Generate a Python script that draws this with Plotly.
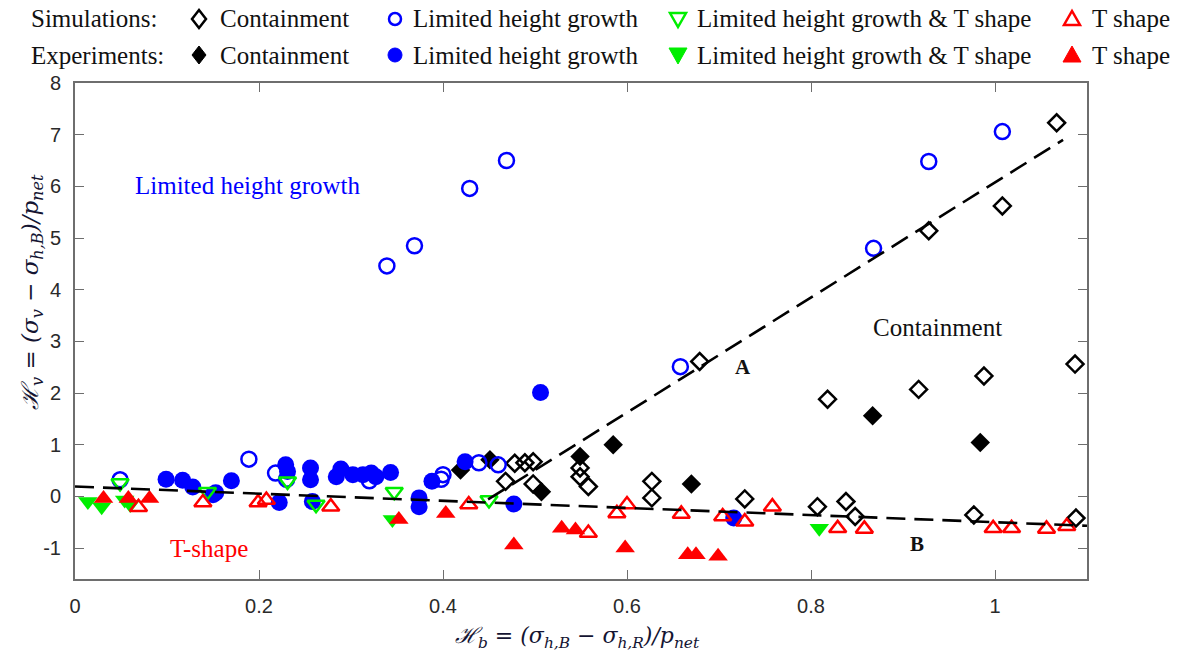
import plotly.graph_objects as go

# ---------------- data ----------------
sim_cont_x = [1.067, 1.008, 0.928, 0.679, 1.087, 0.988, 0.917, 0.818, 0.468, 0.478, 0.489, 0.498,
              0.498, 0.549, 0.549, 0.558, 0.627, 0.627, 0.728, 0.807, 0.838, 0.848, 0.977, 1.088]
sim_cont_y = [7.23, 5.62, 5.14, 2.61, 2.56, 2.33, 2.07, 1.88, 0.29, 0.64, 0.65, 0.67,
              0.24, 0.55, 0.38, 0.19, 0.29, -0.03, -0.05, -0.20, -0.10, -0.39, -0.36, -0.42]

exp_cont_x = [0.419, 0.451, 0.507, 0.549, 0.585, 0.670, 0.867, 0.984]
exp_cont_y = [0.51, 0.71, 0.09, 0.77, 1.00, 0.24, 1.56, 1.04]

sim_lhg_x = [0.049, 0.189, 0.218, 0.230, 0.320, 0.398, 0.400, 0.439, 0.460,
             0.339, 0.369, 0.429, 0.469, 0.658, 0.868, 0.928, 1.008]
sim_lhg_y = [0.32, 0.72, 0.45, 0.33, 0.30, 0.33, 0.42, 0.65, 0.61,
             4.46, 4.85, 5.96, 6.50, 2.51, 4.80, 6.48, 7.06]

exp_lhg_x = [0.099, 0.117, 0.128, 0.150, 0.153, 0.170, 0.222, 0.229, 0.231, 0.256, 0.256, 0.258,
             0.284, 0.289, 0.302, 0.313, 0.322, 0.327, 0.343, 0.374, 0.374, 0.388, 0.424,
             0.477, 0.506, 0.716]
exp_lhg_y = [0.33, 0.31, 0.18, 0.03, 0.07, 0.30, -0.12, 0.61, 0.48, 0.55, 0.32, -0.10,
             0.38, 0.53, 0.42, 0.42, 0.45, 0.38, 0.46, -0.03, -0.20, 0.29, 0.67,
             -0.15, 2.01, -0.42]

sim_lhgT_x = [0.049, 0.144, 0.231, 0.262, 0.347, 0.450]
sim_lhgT_y = [0.26, 0.09, 0.29, -0.16, 0.09, -0.07]

exp_lhgT_x = [0.014, 0.029, 0.054, 0.060, 0.345, 0.809]
exp_lhgT_y = [-0.10, -0.20, -0.07, -0.16, -0.45, -0.62]

sim_T_x = [0.069, 0.139, 0.199, 0.208, 0.278, 0.428, 0.558, 0.589, 0.600, 0.659, 0.704,
           0.728, 0.758, 0.829, 0.858, 0.998, 1.018, 1.056, 1.078]
sim_T_y = [-0.21, -0.12, -0.12, -0.07, -0.20, -0.16, -0.71, -0.33, -0.16, -0.34, -0.39,
           -0.49, -0.20, -0.62, -0.63, -0.62, -0.62, -0.63, -0.58]

exp_T_x = [0.031, 0.058, 0.081, 0.352, 0.403, 0.477, 0.529, 0.544, 0.598, 0.666, 0.675, 0.699]
exp_T_y = [-0.04, -0.04, -0.04, -0.45, -0.33, -0.94, -0.62, -0.65, -1.00, -1.13, -1.13, -1.16]

lineA_x = [0.449, 1.074]
lineA_y = [-0.06, 6.90]
lineB_x = [0.0, 1.1]
lineB_y = [0.19, -0.57]

x_ticks = [0, 0.2, 0.4, 0.6, 0.8, 1.0]
x_tick_labels = ["0", "0.2", "0.4", "0.6", "0.8", "1"]
y_ticks = [-1, 0, 1, 2, 3, 4, 5, 6, 7, 8]
y_tick_labels = ["-1", "0", "1", "2", "3", "4", "5", "6", "7", "8"]

legend_row_titles = ["Simulations:", "Experiments:"]
legend_labels = ["Containment", "Limited height growth", "Limited height growth & T shape", "T shape"]

# ---------------- layout constants ----------------
W, H = 1178, 657
ML, MR, MT, MB = 75, 91, 83, 78
PW, PH = W - ML - MR, H - MT - MB


def pxx(px):
    return (px - ML) / PW


def pxy(py):
    return (H - MB - py) / PH


BLUE, GREEN, RED, BLACK = "#0000ff", "#00ee00", "#ff0000", "#000000"
SERIF = "Liberation Serif, Times New Roman, serif"
MATH = "DejaVu Serif, Liberation Serif, serif"
SANS = "Liberation Sans, Arial, sans-serif"

series = [
    dict(x=sim_cont_x, y=sim_cont_y, sym="diamond-open", c=BLACK, s=13),
    dict(x=exp_cont_x, y=exp_cont_y, sym="diamond", c=BLACK, s=15),
    dict(x=sim_lhg_x, y=sim_lhg_y, sym="circle-open", c=BLUE, s=15),
    dict(x=exp_lhg_x, y=exp_lhg_y, sym="circle", c=BLUE, s=17),
    dict(x=sim_lhgT_x, y=sim_lhgT_y, sym="triangle-down-open", c=GREEN, s=15),
    dict(x=exp_lhgT_x, y=exp_lhgT_y, sym="triangle-down", c=GREEN, s=17),
    dict(x=sim_T_x, y=sim_T_y, sym="triangle-up-open", c=RED, s=15),
    dict(x=exp_T_x, y=exp_T_y, sym="triangle-up", c=RED, s=17),
]

fig = go.Figure()
for s in series:
    opn = s["sym"].endswith("open")
    fig.add_trace(go.Scatter(
        x=s["x"], y=s["y"], mode="markers", showlegend=False, cliponaxis=False,
        marker=dict(symbol=s["sym"], size=s["s"], color=s["c"],
                    line=dict(width=2.5 if opn else 0, color=s["c"]))))

for lx, ly in [(lineA_x, lineA_y), (lineB_x, lineB_y)]:
    fig.add_trace(go.Scatter(x=lx, y=ly, mode="lines", showlegend=False,
                             line=dict(color="black", width=2.6, dash="19px,9px")))

# ---------------- legend glyphs (pixel-sized shapes) and texts ----------------
leg_marker_px = [199, 395, 678, 1072]
leg_text_px = [218, 411, 695, 1090]
leg_row_py = [19, 55]

# glyph outlines in pixels relative to the anchor (y positive = up)
glyph_paths = {
    "diamond": "M0,9 L7,0 L0,-9 L-7,0 Z",
    "triangle-down": "M-8,6 L8,6 L0,-8 Z",
    "triangle-down-filled": "M-9,7 L9,7 L0,-9 Z",
    "triangle-up": "M-8,-6 L8,-6 L0,8 Z",
    "triangle-up-filled": "M-9,-7 L9,-7 L0,9 Z",
}

shapes = []
for ci in range(4):
    for ri in range(2):
        s = series[2 * ci + ri]
        opn = s["sym"].endswith("open")
        base = s["sym"].replace("-open", "")
        common = dict(xref="paper", yref="paper", xsizemode="pixel", ysizemode="pixel",
                      xanchor=pxx(leg_marker_px[ci]), yanchor=pxy(leg_row_py[ri]),
                      layer="above",
                      line=dict(color=s["c"], width=2.5 if opn else 1),
                      fillcolor="rgba(0,0,0,0)" if opn else s["c"])
        if base == "circle":
            r = 6 if opn else 7
            shapes.append(dict(type="circle", x0=-r, x1=r, y0=-r, y1=r, **common))
        else:
            key = base if (opn or base == "diamond") else base + "-filled"
            shapes.append(dict(type="path", path=glyph_paths[key], **common))

annotations = []
for ri in range(2):
    annotations.append(dict(x=pxx(29), y=pxy(leg_row_py[ri]), xref="paper", yref="paper",
                            text=legend_row_titles[ri], showarrow=False, xanchor="left",
                            yanchor="middle", font=dict(family=SERIF, size=25, color="#111")))
    for ci in range(4):
        annotations.append(dict(x=pxx(leg_text_px[ci]), y=pxy(leg_row_py[ri]), xref="paper",
                                yref="paper", text=legend_labels[ci], showarrow=False,
                                xanchor="left", yanchor="middle",
                                font=dict(family=SERIF, size=25, color="#111")))

# in-plot labels
inplot = [
    dict(x=0.187, y=6.02, text="Limited height growth", font=dict(family=SERIF, size=25, color=BLUE)),
    dict(x=0.146, y=-1.0, text="T-shape", font=dict(family=SERIF, size=25, color=RED)),
    dict(x=0.9375, y=3.27, text="Containment", font=dict(family=SERIF, size=25, color="#111")),
    dict(x=0.726, y=2.5, text="A", font=dict(family=SERIF, size=21, color="#111", weight="bold")),
    dict(x=0.9155, y=-0.92, text="B", font=dict(family=SERIF, size=21, color="#111", weight="bold")),
]
for a in inplot:
    a.update(xref="x", yref="y", showarrow=False, xanchor="center", yanchor="middle")
annotations += inplot

# axis titles
annotations.append(dict(
    x=pxx(577), y=pxy(637), xref="paper", yref="paper", showarrow=False,
    text="ℋ<sub>b</sub> = (σ<sub>h,B</sub> − σ<sub>h,R</sub>)/p<sub>net</sub>",
    font=dict(family=MATH, size=22, color="#141432", style="italic"),
    xanchor="center", yanchor="middle"))
annotations.append(dict(
    x=pxx(32), y=pxy(292), xref="paper", yref="paper", showarrow=False, textangle=-90,
    text="ℋ<sub>v</sub> = (σ<sub>v</sub> − σ<sub>h,B</sub>)/p<sub>net</sub>",
    font=dict(family=MATH, size=23, color="#141432", style="italic"),
    xanchor="center", yanchor="middle"))

axis_common = dict(showgrid=False, zeroline=False, showline=True, linecolor="#6e6e6e",
                   linewidth=2, mirror="ticks", ticks="inside", ticklen=9, tickwidth=1,
                   tickcolor="#6e6e6e", tickfont=dict(family=SANS, size=20, color="#2a2a2a"))

fig.update_layout(
    width=W, height=H, margin=dict(l=ML, r=MR, t=MT, b=MB),
    paper_bgcolor="white", plot_bgcolor="white", showlegend=False,
    xaxis=dict(range=[0, 1.1], tickvals=x_ticks, ticktext=x_tick_labels, ticklabelstandoff=8,
               **axis_common),
    yaxis=dict(range=[-1.6, 8], tickvals=y_ticks, ticktext=y_tick_labels, ticklabelstandoff=8,
               **axis_common),
    annotations=annotations,
    shapes=shapes,
)

fig.write_html("out.html")
